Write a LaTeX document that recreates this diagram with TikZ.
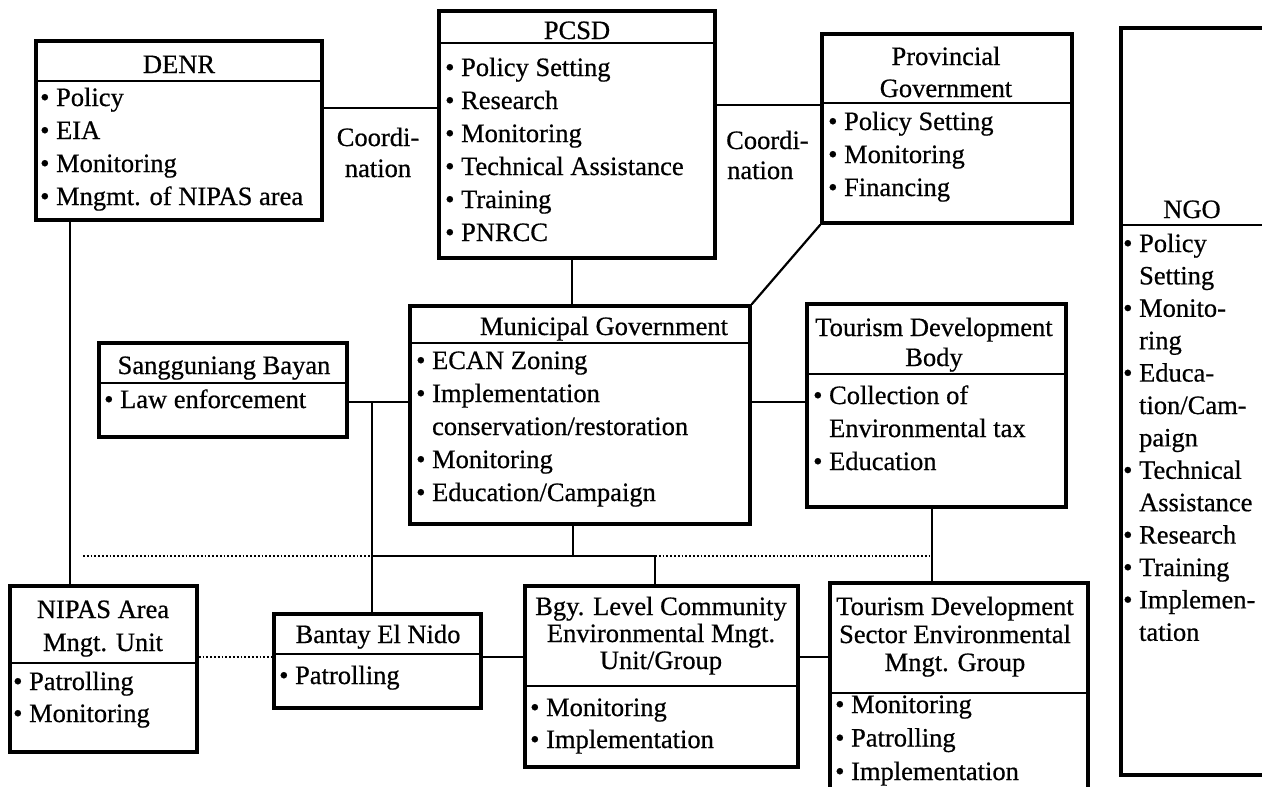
\documentclass[tikz,border=0pt]{standalone}
\usepackage{fontspec}
\setmainfont[FakeBold=0.6]{Liberation Serif}
\usetikzlibrary{fit}
\tikzset{
  orgframe/.style={draw, line width=3.4pt, inner sep=0pt},
  divider/.style={line width=1.6pt},
  link/.style={line width=2.2pt},
  dotlink/.style={line width=1.8pt, dotted},
  txt/.style={inner sep=0pt, font=\fontsize{26.5}{30}\selectfont},
}
\newcommand\orgbox[6]{%
  \node[orgframe, fit={(#2,#3)(#4,#5)}] (#1) {};
  \draw[divider] (#1.west |- 0,#6) -- (#1.east |- 0,#6);}
\newcommand\itemlist[5]{%
  \foreach \t [count=\i] in {#5} {\node[txt, anchor=base west] (#1-\i) at (#2,{#3+(\i-1)*#4}) {\t};}}
\newcommand\titlelist[5]{%
  \foreach \t [count=\i] in {#5} {\node[txt, anchor=base] (#1-\i) at (#2,{#3+(\i-1)*#4}) {\t};}}
\newcommand\ind{\hphantom{•\ }}
\begin{document}
\begin{tikzpicture}[x=1pt,y=-1pt]
\useasboundingbox (0,0) rectangle (1262,787);
\clip (0,0) rectangle (1262,787);

% boxes
\orgbox{denr}{36}{41}{322}{220}{81}
\titlelist{denrT}{179}{73}{30}{DENR}
\itemlist{denrI}{40}{106}{33}{• Policy, • EIA, • Monitoring, • Mngmt. of NIPAS area}

\orgbox{pcsd}{439}{11}{715}{258}{43}
\titlelist{pcsdT}{577}{39}{30}{PCSD}
\itemlist{pcsdI}{445}{76}{33}{• Policy Setting, • Research, • Monitoring, • Technical Assistance, • Training, • PNRCC}

\orgbox{prov}{822}{34}{1072}{223}{103}
\titlelist{provT}{946}{65}{32}{Provincial, Government}
\itemlist{provI}{828}{130}{33}{• Policy Setting, • Monitoring, • Financing}

\orgbox{ngo}{1121}{28}{1300}{775}{225}
\titlelist{ngoT}{1192}{218}{30}{NGO}
\itemlist{ngoI}{1123}{252}{32.4}{• Policy, \ind Setting, • Monito-, \ind ring, • Educa-, \ind tion/Cam-, \ind paign, • Technical, \ind Assistance, • Research, • Training, • Implemen-, \ind tation}

\orgbox{sb}{99}{343}{347}{437}{383}
\titlelist{sbT}{224}{374}{30}{Sangguniang Bayan}
\itemlist{sbI}{104}{408}{33}{• Law enforcement}

\orgbox{mun}{410}{306}{750}{524}{343}
\titlelist{munT}{604}{335}{30}{Municipal Government}
\itemlist{munI}{416}{369}{33}{• ECAN Zoning, • Implementation, \ind conservation/restoration, • Monitoring, • Education/Campaign}

\orgbox{tdb}{807}{304}{1066}{507}{374}
\titlelist{tdbT}{934}{336}{30}{Tourism Development, Body}
\itemlist{tdbI}{813}{404}{33}{• Collection of, \ind Environmental tax, • Education}

\orgbox{nipas}{10}{586}{197}{752}{663}
\titlelist{nipasT}{103}{618}{33}{NIPAS Area, Mngt. Unit}
\itemlist{nipasI}{13}{690}{32}{• Patrolling, • Monitoring}

\orgbox{bantay}{274}{614}{481}{708}{654}
\titlelist{bantayT}{378}{643}{30}{Bantay El Nido}
\itemlist{bantayI}{279}{684}{33}{• Patrolling}

\orgbox{bgy}{525}{586}{798}{767}{686}
\titlelist{bgyT}{661}{615}{27}{Bgy. Level Community, Environmental Mngt., Unit/Group}
\itemlist{bgyI}{530}{716}{32}{• Monitoring, • Implementation}

\orgbox{tds}{830}{583}{1088}{810}{693}
\titlelist{tdsT}{955}{615}{28}{Tourism Development, Sector Environmental, Mngt. Group}
\itemlist{tdsI}{835}{713}{33.5}{• Monitoring, • Patrolling, • Implementation}

% coordination labels
\node[txt, anchor=base] (coord1a) at (378,146) {Coordi-};
\node[txt, anchor=base] (coord1b) at (378,177) {nation};
\node[txt, anchor=base west] (coord2a) at (726,149) {Coordi-};
\node[txt, anchor=base west] (coord2b) at (727,179) {nation};

% junction coordinates
\coordinate (jSB) at (372,402);
\coordinate (jL) at (83,556);
\coordinate (jB) at (372,556);
\coordinate (jM) at (573,556);
\coordinate (jG) at (655,556);
\coordinate (jT) at (932,556);

% connectors
\draw[link] (denr.east |- 0,108) -- (pcsd.west |- 0,108);
\draw[link] (pcsd.east |- 0,105) -- (prov.west |- 0,105);
\draw[link] (pcsd.south -| 572,0) -- (mun.north -| 572,0);
\draw[link] (prov.south west) -- (mun.north east);
\draw[link] (denr.south -| 70,0) -- (nipas.north -| 70,0);
\draw[link] (sb.east |- jSB) -- (mun.west |- jSB);
\draw[link] (jSB) -- (bantay.north -| jSB);
\draw[link] (mun.east |- jSB) -- (tdb.west |- jSB);
\draw[link] (mun.south -| jM) -- (jM);
\draw[dotlink] (jL) -- (jB);
\draw[link] (jB) -- (jG);
\draw[dotlink] (jG) -- (jT);
\draw[link] (jG) -- (bgy.north -| jG);
\draw[link] (tdb.south -| jT) -- (tds.north -| jT);
\draw[dotlink] (nipas.east |- 0,657) -- (bantay.west |- 0,657);
\draw[link] (bantay.east |- 0,657) -- (bgy.west |- 0,657);
\draw[link] (bgy.east |- 0,657) -- (tds.west |- 0,657);
\end{tikzpicture}
\end{document}
